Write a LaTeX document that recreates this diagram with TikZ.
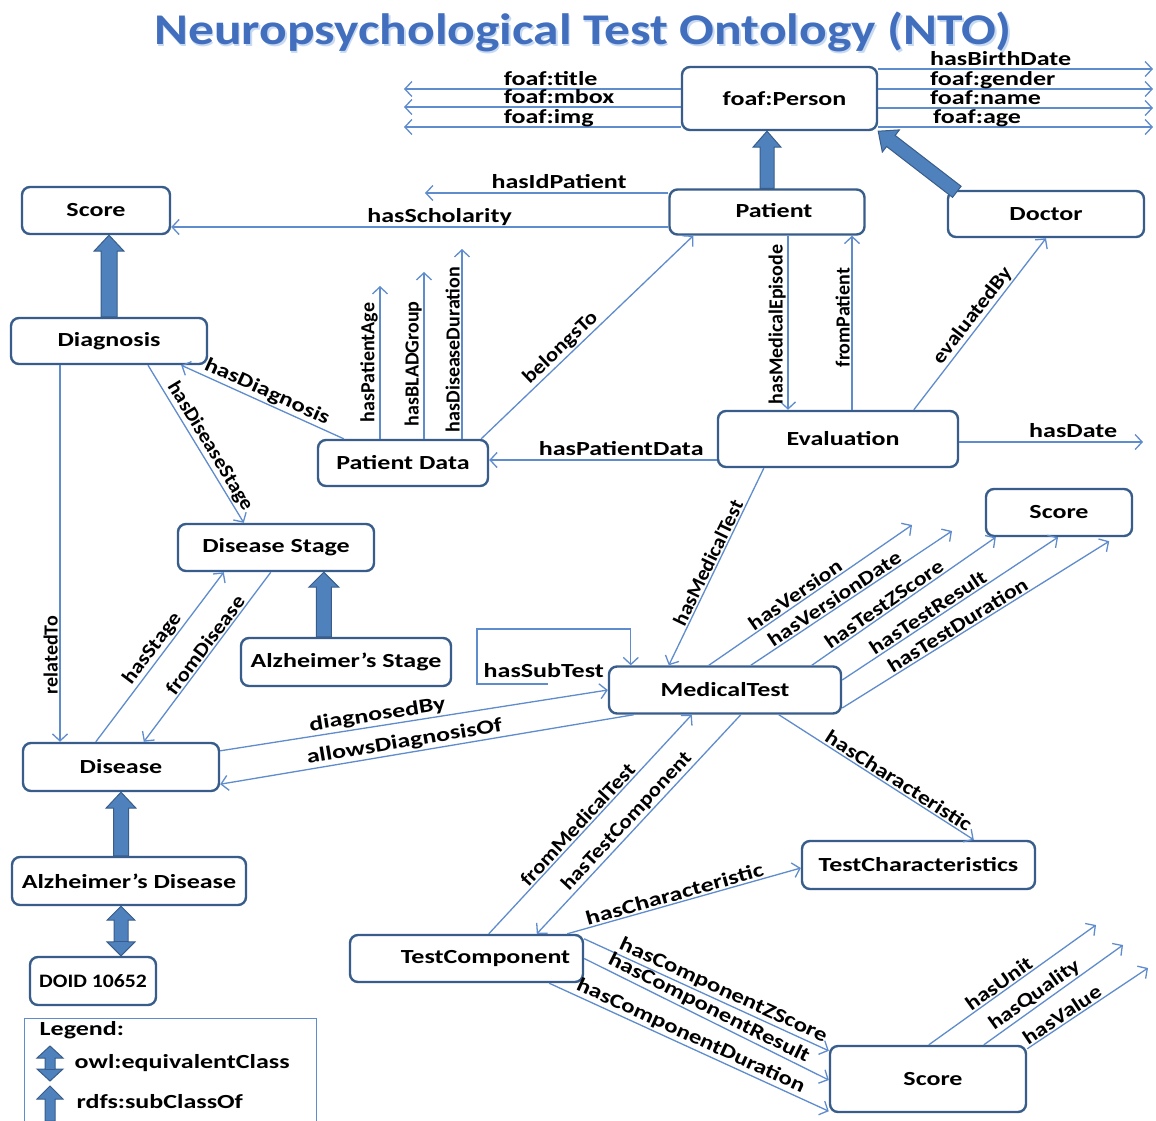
\documentclass[tikz,border=0pt]{standalone}
\usepackage{fontspec}
\usepackage{graphicx}
\setmainfont{Carlito}
\newfontfamily\sxA{Carlito}[FakeStretch=1.3]
\newfontfamily\sxB{Carlito}[FakeStretch=1.25]
\newfontfamily\sxC{Carlito}[FakeStretch=1.2]
\newfontfamily\sxD{Carlito}[FakeStretch=1.14]
\newfontfamily\sxE{Carlito}[FakeStretch=1.07]
\usetikzlibrary{arrows.meta,calc}
\definecolor{nodeblue}{RGB}{56,93,138}
\definecolor{relblue}{RGB}{95,140,205}
\definecolor{thickfill}{RGB}{79,129,189}
\definecolor{titleblue}{RGB}{66,110,190}
\definecolor{titleglow}{RGB}{200,218,242}

% thick subclass arrow: start, end, half shaft, half head, head length
\newcommand\subcls[5]{%
  \coordinate (sA) at (#1); \coordinate (sB) at (#2);
  \coordinate (sH) at ($(sB)!#5!(sA)$);
  \filldraw[thickarr] ($(sA)!#3!90:(sB)$) -- ($(sH)!#3!-90:(sA)$) -- ($(sH)!#4!-90:(sA)$) -- (sB)
    -- ($(sH)!#4!90:(sA)$) -- ($(sH)!#3!90:(sA)$) -- ($(sA)!#3!-90:(sB)$) -- cycle;}
% thick equivalence arrow (heads at both ends)
\newcommand\equivcls[5]{%
  \coordinate (sA) at (#1); \coordinate (sB) at (#2);
  \coordinate (sH) at ($(sB)!#5!(sA)$); \coordinate (sG) at ($(sA)!#5!(sB)$);
  \filldraw[thickarr] (sA) -- ($(sG)!#4!90:(sB)$) -- ($(sG)!#3!90:(sB)$) -- ($(sH)!#3!-90:(sA)$)
    -- ($(sH)!#4!-90:(sA)$) -- (sB) -- ($(sH)!#4!90:(sA)$) -- ($(sH)!#3!90:(sA)$)
    -- ($(sG)!#3!-90:(sB)$) -- ($(sG)!#4!-90:(sB)$) -- cycle;
  \draw[nodeblue, line width=0.8pt] ($(sG)!#3!90:(sB)$) -- ($(sG)!#3!-90:(sB)$);}

\begin{document}
\begin{tikzpicture}[x=1pt,y=-1pt,
  cls/.style={draw=nodeblue, line width=2.4pt, rounded corners=8pt, fill=white, inner sep=0pt,
    font=\sxA\fontsize{20}{24}\selectfont\bfseries},
  rel/.style={draw=relblue, line width=1.3pt, -{Straight Barb[length=7pt,width=15pt,line width=1.3pt]}},
  relb/.style={draw=relblue, line width=1.3pt, {Straight Barb[length=7pt,width=15pt,line width=1.3pt]}-},
  lbl/.style={font=\sxA\fontsize{20}{22}\selectfont\bfseries, inner sep=1.5pt, text=black},
  lblv/.style={font=\fontsize{20}{22}\selectfont\bfseries, inner sep=1.5pt, text=black},
  lblB/.style={font=\sxB\fontsize{20}{22}\selectfont\bfseries, inner sep=1.5pt, text=black},
  lblC/.style={font=\sxC\fontsize{20}{22}\selectfont\bfseries, inner sep=1.5pt, text=black},
  lblD/.style={font=\sxD\fontsize{20}{22}\selectfont\bfseries, inner sep=1.5pt, text=black},
  lblE/.style={font=\sxE\fontsize{20}{22}\selectfont\bfseries, inner sep=1.5pt, text=black},
  thickarr/.style={fill=thickfill, draw=nodeblue, line width=1pt}
]
\useasboundingbox (0,0) rectangle (1156,1120);
\fill[white] (0,0) rectangle (1156,1120);

% title
\node[text=titleglow] at (584.5,33.5) {\resizebox*{857pt}{40pt}{\fontsize{48}{56}\selectfont\bfseries Neuropsychological Test Ontology (NTO)}};
\node[text=titleblue] (title) at (583,32) {\resizebox*{857pt}{40pt}{\fontsize{48}{56}\selectfont\bfseries Neuropsychological Test Ontology (NTO)}};

% classes
\node[cls, minimum width=195pt, minimum height=63pt] (person) at (779.5,98.5) {\hspace*{10pt}foaf:Person};
\node[cls, minimum width=195pt, minimum height=45pt] (patient) at (767,212) {\hspace*{14pt}Patient\vphantom{g}};
\node[cls, minimum width=196pt, minimum height=46pt] (doctor) at (1046,214) {Doctor};
\node[cls, minimum width=148pt, minimum height=47pt] (score1) at (96,210.5) {Score};
\node[cls, minimum width=196pt, minimum height=46pt] (diag) at (109,341) {Diagnosis};
\node[cls, minimum width=170pt, minimum height=46pt] (pd) at (403,463) {Patient Data};
\node[cls, minimum width=240pt, minimum height=56pt] (eval) at (838,439) {\hspace*{10pt}Evaluation};
\node[cls, minimum width=196pt, minimum height=47pt] (dstage) at (276,547.5) {Disease Stage};
\node[cls, minimum width=210pt, minimum height=48pt] (alzstage) at (346,662) {Alzheimer’s Stage};
\node[cls, minimum width=146pt, minimum height=47pt] (score2) at (1059,512.5) {Score};
\node[cls, minimum width=232pt, minimum height=47pt] (mt) at (725,690) {MedicalTest};
\node[cls, minimum width=196pt, minimum height=48pt] (disease) at (121,767) {Disease};
\node[cls, minimum width=234pt, minimum height=48pt] (alzd) at (129,881) {Alzheimer’s Disease};
\node[cls, minimum width=126pt, minimum height=48pt, font=\sxD\fontsize{19}{22}\selectfont\bfseries] (doid) at (93,981) {DOID 10652};
\node[cls, minimum width=233pt, minimum height=48pt] (tchar) at (918.5,865) {TestCharacteristics};
\node[cls, minimum width=233pt, minimum height=47pt] (tcomp) at (466.5,958.5) {\hspace*{38pt}TestComponent};
\node[cls, minimum width=196pt, minimum height=66pt] (score3) at (928,1079) {\hspace*{10pt}Score};

% foaf:Person properties
\coordinate (fl1) at (404,89); \coordinate (fl2) at (404,107); \coordinate (fl3) at (404,127);
\draw[rel] (fl1 -| person.west) -- (fl1) node[lbl, pos=0.647, anchor=base west, yshift=4pt] {foaf:title};
\draw[rel] (fl2 -| person.west) -- (fl2) node[lbl, pos=0.647, anchor=base west, yshift=4pt] {foaf:mbox};
\draw[rel] (fl3 -| person.west) -- (fl3) node[lbl, pos=0.647, anchor=base west, yshift=4pt] {foaf:img};
\coordinate (fr1) at (1153,69); \coordinate (fr2) at (1153,89);
\coordinate (fr3) at (1153,108); \coordinate (fr4) at (1153,127);
\draw[rel] (fr1 -| person.east) -- (fr1) node[lbl, pos=0.181, anchor=base west, yshift=4pt] {hasBirthDate};
\draw[rel] (fr2 -| person.east) -- (fr2) node[lbl, pos=0.181, anchor=base west, yshift=4pt] {foaf:gender};
\draw[rel] (fr3 -| person.east) -- (fr3) node[lbl, pos=0.181, anchor=base west, yshift=4pt] {foaf:name};
\draw[rel] (fr4 -| person.east) -- (fr4) node[lbl, pos=0.192, anchor=base west, yshift=4pt] {foaf:age};

% Patient
\coordinate (idp) at (425,193);
\draw[rel] (idp -| patient.west) -- (idp) node[lbl, pos=0.449, anchor=base, yshift=5pt] {hasIdPatient};
\coordinate (sch) at (0,227);
\draw[rel] (sch -| patient.west) -- (sch -| score1.east) node[lbl, pos=0.46, anchor=base, yshift=5pt] {hasScholarity};

% Patient Data
\coordinate (pa) at (380,286); \coordinate (pb) at (424,272); \coordinate (pc) at (462,249);
\draw[rel] (pa |- pd.north) -- (pa) node[lblv, pos=0.5, rotate=90, anchor=south] {hasPatientAge};
\draw[rel] (pb |- pd.north) -- (pb) node[lblv, pos=0.45, rotate=90, anchor=south] {hasBLADGroup};
\draw[rel] (pc |- pd.north) -- (pc) node[lblv, pos=0.47, rotate=90, anchor=south] {hasDiseaseDuration};
\draw[relb] ($(diag.south east)+(-27,0)$) -- ($(pd.north west)+(27,0)$)
  node[lblB, sloped, above, pos=0.5] {hasDiagnosis};
\draw[rel] ($(pd.north east)+(-8,0)$) -- ($(patient.south west)+(25,0)$)
  node[lblD, sloped, above, pos=0.41] {belongsTo};

% Diagnosis
\draw[rel] ($(diag.south)+(39,0)$) -- ($(dstage.north west)+(67,0)$)
  node[lblE, sloped, above, pos=0.55] {hasDiseaseStage};
\coordinate (rt) at (60,0);
\draw[rel] (rt |- diag.south) -- (rt |- disease.north) node[lblv, pos=0.77, rotate=90, anchor=south] {relatedTo};

% Evaluation
\coordinate (hpd) at (0,460);
\draw[relb] (hpd -| pd.east) -- (hpd -| eval.west) node[lbl, pos=0.58, anchor=base, yshift=5pt] {hasPatientData};
\coordinate (hme) at (788,0); \coordinate (fp) at (852,0);
\draw[rel] (hme |- patient.south) -- (hme |- eval.north) node[lblv, pos=0.51, rotate=90, anchor=south] {hasMedicalEpisode};
\draw[rel] (fp |- eval.north) -- (fp |- patient.south) node[lblv, pos=0.53, rotate=90, anchor=south] {fromPatient};
\draw[rel] ($(eval.north west)+(197,0)$) -- (doctor.south) node[lblD, sloped, above, pos=0.51] {evaluatedBy};
\coordinate (hd) at (1143,442);
\draw[rel] (hd -| eval.east) -- (hd) node[lbl, pos=0.62, anchor=base, yshift=5pt] {hasDate};
\draw[relb] ($(mt.north west)+(61,0)$) -- ($(eval.south west)+(47,0)$)
  node[lblE, sloped, above, pos=0.5] {hasMedicalTest};

% MedicalTest
\coordinate (mtin) at ($(mt.north west)+(23,0)$);
\coordinate (st1) at (548,684); \coordinate (st2) at (477,629);
\draw[rel] (st1) -- (st1 -| st2) -- (st2) -- (st2 -| mtin) -- (mtin);
\node[lbl, anchor=base west] (stl) at (482,677) {hasSubTest};
\draw[rel] ($(disease.north east)+(0,9)$) -- (mt.west) node[lbl, sloped, above, pos=0.41] {diagnosedBy};
\draw[relb] ($(disease.south east)+(0,-8)$) -- ($(mt.south west)+(26,0)$)
  node[lbl, sloped, above, pos=0.45] {allowsDiagnosisOf};

\coordinate (hv) at (912,525); \coordinate (hvd) at (952,531);
\draw[rel] ($(mt.north west)+(101,0)$) -- (hv) node[lblC, sloped, above, pos=0.45] {hasVersion};
\draw[rel] ($(mt.north west)+(143,0)$) -- (hvd) node[lblC, sloped, above, pos=0.44] {hasVersionDate};
\draw[rel] ($(mt.north west)+(204,0)$) -- ($(score2.south west)+(11,0)$) node[lblC, sloped, above, pos=0.42] {hasTestZScore};
\draw[rel] ($(mt.east)+(0,-10)$) -- ($(score2.south)+(-1,0)$) node[lblC, sloped, above, pos=0.42] {hasTestResult};
\draw[rel] ($(mt.east)+(0,18)$) -- ($(score2.south east)+(-24,4)$) node[lblC, sloped, above, pos=0.45] {hasTestDuration};
\draw[rel] ($(mt.south west)+(171,0)$) -- ($(tchar.north west)+(173,0)$)
  node[lblC, sloped, above, pos=0.59] {hasCharacteristic};

% Disease
\draw[rel] ($(disease.north west)+(74,0)$) -- ($(dstage.south west)+(47,0)$)
  node[lblD, sloped, above, pos=0.51] {hasStage};
\draw[relb] ($(disease.north west)+(122,0)$) -- ($(dstage.south west)+(94,0)$)
  node[lblD, sloped, above, pos=0.54] {fromDisease};

% TestComponent
\draw[rel] ($(tcomp.north west)+(140,0)$) -- ($(mt.south west)+(84,0)$)
  node[lblD, sloped, above, pos=0.47] {fromMedicalTest};
\draw[relb] ($(tcomp.north west)+(188,0)$) -- ($(mt.south west)+(133,0)$)
  node[lblD, sloped, above, pos=0.48] {hasTestComponent};
\draw[rel] ($(tcomp.north east)+(-17,0)$) -- ($(tchar.west)+(0,3)$)
  node[lbl, sloped, above, pos=0.47] {hasCharacteristic};
\draw[rel] ($(tcomp.north east)+(0,5)$) -- ($(score3.north west)+(0,6)$)
  node[lblB, sloped, above, pos=0.55] {hasComponentZScore};
\draw[rel] (tcomp.east) -- ($(score3.west)+(0,1)$)
  node[lblB, sloped, above, pos=0.49] {hasComponentResult};
\draw[rel] ($(tcomp.south east)+(-35,0)$) -- ($(score3.south west)+(0,-2)$)
  node[lblB, sloped, above, pos=0.49] {hasComponentDuration};

% Score (bottom)
\coordinate (hu) at (1096,925); \coordinate (hq) at (1123,945); \coordinate (hvl) at (1148,968);
\draw[rel] ($(score3.north west)+(100,0)$) -- (hu) node[lblC, sloped, above, pos=0.45] {hasUnit};
\draw[rel] ($(score3.north west)+(155,0)$) -- (hq) node[lblC, sloped, above, pos=0.41] {hasQuality};
\draw[rel] ($(score3.north east)+(0,4)$) -- (hvl) node[lblC, sloped, above, pos=0.33] {hasValue};

% thick arrows (subclass / equivalence)
\subcls{patient.north}{patient.north |- person.south}{7pt}{14pt}{16pt}
\subcls{$(doctor.north west)+(10,2)$}{person.south east}{7pt}{14pt}{16pt}
\subcls{diag.north}{diag.north |- score1.south}{8pt}{15pt}{16pt}
\coordinate (ast) at ($(alzstage.north west)+(84,0)$);
\subcls{ast}{ast |- dstage.south}{7.5pt}{15pt}{15pt}
\subcls{alzd.north -| disease.south}{disease.south}{7.5pt}{15pt}{16pt}
\equivcls{doid.north -| disease.south}{alzd.south -| disease.south}{7pt}{14pt}{14pt}

% legend
\node[draw=relblue, line width=1pt, minimum width=292pt, minimum height=110pt, anchor=north west, inner sep=0pt] (legend) at (24,1018) {};
\node[lbl, anchor=west] (lgt) at (38,1030) {Legend:};
\coordinate (le1) at (50,1081); \coordinate (le2) at (50,1046);
\equivcls{le1}{le2}{5pt}{13pt}{12pt}
\node[lbl, anchor=west] (lg1) at (73,1063) {owl:equivalentClass};
\coordinate (ls1) at (50,1121); \coordinate (ls2) at (50,1086);
\subcls{ls1}{ls2}{5pt}{13pt}{13pt}
\node[lbl, anchor=west] (lg2) at (75,1102) {rdfs:subClassOf};
\end{tikzpicture}
\end{document}
